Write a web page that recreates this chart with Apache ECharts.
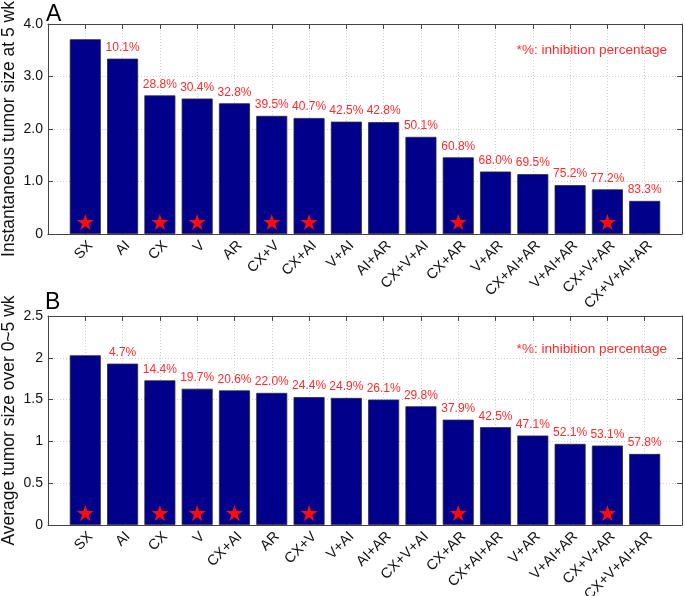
<!DOCTYPE html>
<html>
<head>
<meta charset="utf-8">
<script src="https://cdn.jsdelivr.net/npm/echarts@6/dist/echarts.min.js"></script>
<style>
html,body{margin:0;padding:0;background:#fff;}
#chart{width:685px;height:596px;}
</style>
</head>
<body>
<div id="chart"></div>
<script>
// ---- Panel A: instantaneous tumor size at 5 wk ----
const catsA = ['SX','AI','CX','V','AR','CX+V','CX+AI','V+AI','AI+AR','CX+V+AI','CX+AR','V+AR','CX+AI+AR','V+AI+AR','CX+V+AR','CX+V+AI+AR'];
const valsA = [3.71,3.34,2.64,2.58,2.49,2.25,2.21,2.14,2.13,1.85,1.46,1.19,1.14,0.93,0.85,0.63];
const pctA  = [null,10.1,28.8,30.4,32.8,39.5,40.7,42.5,42.8,50.1,60.8,68.0,69.5,75.2,77.2,83.3];
const starsA = ['SX','CX','V','CX+V','CX+AI','CX+AR','CX+V+AR'];
const yTicksA = {min:0, max:4, interval:1};

// ---- Panel B: average tumor size over 0~5 wk ----
const catsB = ['SX','AI','CX','V','CX+AI','AR','CX+V','V+AI','AI+AR','CX+V+AI','CX+AR','CX+AI+AR','V+AR','V+AI+AR','CX+V+AR','CX+V+AI+AR'];
const valsB = [2.03,1.93,1.73,1.63,1.61,1.58,1.53,1.52,1.50,1.42,1.26,1.17,1.07,0.97,0.95,0.85];
const pctB  = [null,4.7,14.4,19.7,20.6,22.0,24.4,24.9,26.1,29.8,37.9,42.5,47.1,52.1,53.1,57.8];
const starsB = ['SX','CX','V','CX+AI','CX+V','CX+AR','CX+V+AR'];
const yTicksB = {min:0, max:2.5, interval:0.5};

const nameA = 'Instantaneous tumor size at 5 wk';
const nameB = 'Average tumor size over 0~5 wk';
const noteText = '*%: inhibition percentage';

const FONT = "'Liberation Sans', Arial, Helvetica, sans-serif";
const RED = '#ff2a2a';
const AXIS = '#444';
const STAR = 'path://M50,0 L61.23,34.55 L97.55,34.55 L68.16,55.9 L79.39,90.45 L50,69.1 L20.61,90.45 L31.84,55.9 L2.45,34.55 L38.77,34.55 Z';

function xAxes(cats, gi){
  return [{
    type:'value', gridIndex:gi, min:0, max:cats.length+1, interval:1, position:'bottom',
    axisLine:{show:true, onZero:false, lineStyle:{color:AXIS, width:1}},
    axisTick:{show:true, inside:true, length:5, lineStyle:{color:AXIS}},
    splitLine:{show:true, lineStyle:{color:'#cfcfcf', type:[1,2], width:1}},
    axisLabel:{show:true, rotate:45, margin:4, verticalAlign:'top', fontSize:14.5, color:'#111', fontFamily:FONT,
      formatter:function(v){ return cats[v-1] || ''; }}
  },{
    type:'value', gridIndex:gi, min:0, max:cats.length+1, interval:1, position:'top',
    axisLine:{show:true, onZero:false, lineStyle:{color:AXIS, width:1}},
    axisTick:{show:true, inside:true, length:5, lineStyle:{color:AXIS}},
    splitLine:{show:false}, axisLabel:{show:false}
  }];
}
function yAxes(t, name, gi, fmt){
  return [{
    type:'value', gridIndex:gi, min:t.min, max:t.max, interval:t.interval, position:'left',
    name:name, nameLocation:'middle', nameGap:30, nameMoveOverlap:false,
    nameTextStyle:{fontSize:17.5, color:'#111', fontFamily:FONT},
    axisLine:{show:true, onZero:false, lineStyle:{color:AXIS, width:1}},
    axisTick:{show:true, inside:true, length:5, lineStyle:{color:AXIS}},
    splitLine:{show:true, lineStyle:{color:'#cfcfcf', type:[1,2], width:1}},
    axisLabel:{fontSize:14, color:'#111', margin:5, fontFamily:FONT, formatter:fmt}
  },{
    type:'value', gridIndex:gi, min:t.min, max:t.max, interval:t.interval, position:'right',
    axisLine:{show:true, onZero:false, lineStyle:{color:AXIS, width:1}},
    axisTick:{show:true, inside:true, length:5, lineStyle:{color:AXIS}},
    splitLine:{show:false}, axisLabel:{show:false}
  }];
}
function barSeries(cats, vals, pcts, ax){
  return {
    type:'bar', xAxisIndex:ax, yAxisIndex:ax, barWidth:31,
    data: vals.map((v,i)=>[i+1, v]),
    itemStyle:{color:'#00008b', borderColor:'#2a2a40', borderWidth:0.8},
    label:{show:true, position:'top', distance:5, fontSize:12, color:RED, fontFamily:FONT,
      formatter:function(p){ const q = pcts[p.dataIndex]; return q==null ? '' : q.toFixed(1)+'%'; }},
    z:2
  };
}
function starSeries(cats, stars, ax){
  return {
    type:'scatter', xAxisIndex:ax, yAxisIndex:ax, clip:false,
    symbol:STAR, symbolSize:17, symbolKeepAspect:true, symbolOffset:[0,-12],
    itemStyle:{color:'#ff0a0a', opacity:1},
    data: stars.map(s=>[cats.indexOf(s)+1, 0]),
    z:3
  };
}

const chart = echarts.init(document.getElementById('chart'), null, {renderer:'canvas'});
chart.setOption({
  animation:false,
  backgroundColor:'#fff',
  textStyle:{fontFamily:FONT},
  grid:[
    {left:48, top:24, right:3, height:210, containLabel:false, outerBoundsMode:'none'},
    {left:48, top:316, right:3, height:209, containLabel:false, outerBoundsMode:'none'}
  ],
  xAxis: [].concat(xAxes(catsA,0), xAxes(catsB,1)),
  yAxis: [].concat(
    yAxes(yTicksA, nameA, 0, v=> v===0 ? '0' : v.toFixed(1)),
    yAxes(yTicksB, nameB, 1, v=> String(v))
  ),
  series:[
    barSeries(catsA, valsA, pctA, 0),
    starSeries(catsA, starsA, 0),
    barSeries(catsB, valsB, pctB, 2),
    starSeries(catsB, starsB, 2)
  ],
  graphic:[
    {type:'text', left:46, top:3, style:{text:'A', fontSize:23, fill:'#000', fontFamily:FONT}},
    {type:'text', left:45, top:291, style:{text:'B', fontSize:23, fill:'#000', fontFamily:FONT}},
    {type:'text', right:18, top:43, style:{text:noteText, fontSize:13.6, fill:RED, fontFamily:FONT}},
    {type:'text', right:18, top:342, style:{text:noteText, fontSize:13.6, fill:RED, fontFamily:FONT}}
  ]
});
</script>
</body>
</html>
